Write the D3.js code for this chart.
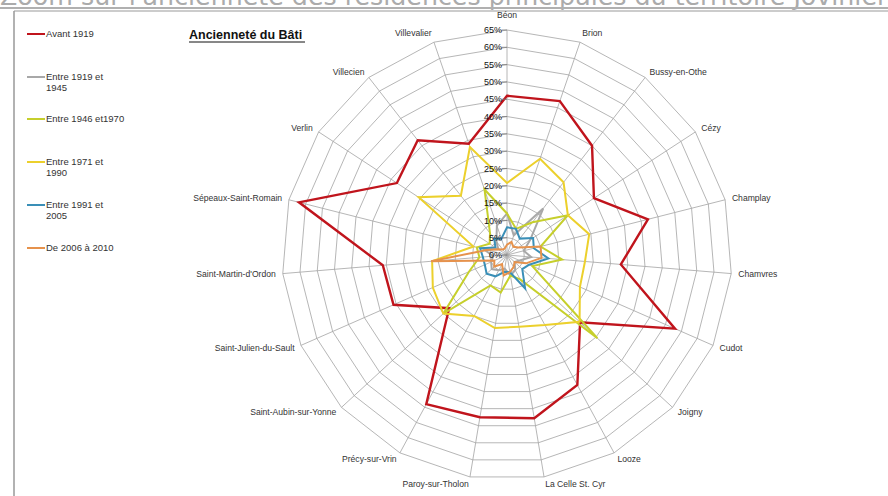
<!DOCTYPE html>
<html><head><meta charset="utf-8">
<script src="https://cdn.jsdelivr.net/npm/d3@7"></script>
<style>html,body{margin:0;padding:0;background:#fff;overflow:hidden}</style>
</head><body>
<svg id="c" width="888" height="496"></svg>
<script>
const categories = ["Béon","Brion","Bussy-en-Othe","Cézy","Champlay","Chamvres","Cudot","Joigny","Looze","La Celle St. Cyr","Paroy-sur-Tholon","Précy-sur-Vrin","Saint-Aubin-sur-Yonne","Saint-Julien-du-Sault","Saint-Martin-d'Ordon","Sépeaux-Saint-Romain","Verlin","Villecien","Villevalier"];
const avant1919   = [46,47,40,30,42,33,53,28.7,42.7,47.8,47.5,49,22.7,35.8,36,62,38,42,34];
const entre19_45  = [12,6,17,8,5,7,4,3,5,6,4,5,6,5,4,7,3,5,9];
const entre46_70  = [12,8,12,21,10,16,8,35.5,8,6,11,10,25,12,8,9,6,8,20];
const entre71_90  = [20.8,29.4,26.6,21,24.5,22.6,23,28.5,23,21,21.4,20,25,23.4,21.7,10,30.5,21.7,33];
const entre91_05  = [8,8,6,9,8,12,7,6,11,5,5,7,8,7,7,8,4,6,5];
const entre06_10  = [3,4,3,4,10,10,6,3,4,5,6,3,5,4,22,6,3,2,2];
const seriesNames = ["Avant 1919","Entre 1919 et\n1945","Entre 1946 et1970","Entre 1971 et\n1990","Entre 1991 et\n2005","De 2006 à 2010"];
const seriesColors = ["#c0141c","#a8a8a8","#c6cf2c","#ecd02c","#3a8fb7","#e6924c"];
const tickValues = [0,5,10,15,20,25,30,35,40,45,50,55,60,65];
const seriesData = [avant1919,entre19_45,entre46_70,entre71_90,entre91_05,entre06_10];

const svg = d3.select("#c");
const font = "Liberation Sans, Arial, sans-serif";

// page title (cut off at top)
svg.append("text").attr("x",0).attr("y",5).attr("font-family","DejaVu Sans, Verdana, sans-serif")
  .attr("font-size",24).attr("fill","#ababab").attr("textLength",893).attr("lengthAdjust","spacingAndGlyphs")
  .text("Zoom sur l'ancienneté des résidences principales du territoire Jovinien");
svg.append("line").attr("x1",0).attr("x2",888).attr("y1",8).attr("y2",8).attr("stroke","#b0b0b0").attr("stroke-width",2);
svg.append("line").attr("x1",14).attr("x2",888).attr("y1",11).attr("y2",11).attr("stroke","#999").attr("stroke-width",1.2);
svg.append("line").attr("x1",14).attr("x2",14).attr("y1",11).attr("y2",496).attr("stroke","#999").attr("stroke-width",1.5);

// chart title
svg.append("text").attr("x",189).attr("y",39).attr("font-family",font).attr("font-weight","bold")
  .attr("font-size",12.5).attr("fill","#111").text("Ancienneté du Bâti");
svg.append("line").attr("x1",189).attr("x2",305).attr("y1",42).attr("y2",42).attr("stroke","#111").attr("stroke-width",1);

const cx = 507, cy = 255;
const r = d3.scaleLinear().domain([0,65]).range([0,225]);
const n = categories.length;
const ang = d3.scaleLinear().domain([0,n]).range([0,2*Math.PI]);

const g = svg.append("g").attr("transform",`translate(${cx},${cy})`);
const radial = d3.lineRadial().angle((d,i)=>ang(i)).radius(d=>r(d)).curve(d3.curveLinearClosed);

// grid rings
tickValues.filter(v=>v>0).forEach(v=>{
  g.append("path").attr("d",radial(categories.map(()=>v))).attr("fill","none")
    .attr("stroke","#a3a3a3").attr("stroke-width",0.8);
});
// spokes
categories.forEach((c,i)=>{
  const a = ang(i);
  g.append("line").attr("x1",0).attr("y1",0)
    .attr("x2",Math.sin(a)*r(65)).attr("y2",-Math.cos(a)*r(65))
    .attr("stroke","#a3a3a3").attr("stroke-width",0.8);
});

// category labels
categories.forEach((c,i)=>{
  const a = ang(i), s = Math.sin(a), co = Math.cos(a);
  const rr = 232;
  let x = s*rr, y = -co*rr;
  let anchor = Math.abs(s)<0.05 ? "middle" : (s>0 ? "start":"end");
  if (anchor==="middle" && co>0) y -= 8;
  if (co>0.9 && anchor!=="middle") y -= 3;
  g.append("text").attr("x",x).attr("y",y).attr("text-anchor",anchor).attr("dy","0.35em")
    .attr("font-family",font).attr("font-size",8.6).attr("fill","#333").text(c);
});

// series
seriesData.forEach((vals,k)=>{
  g.append("path").attr("d",radial(vals)).attr("fill","none")
    .attr("stroke",seriesColors[k]).attr("stroke-width",k===0?2.4:2).attr("stroke-linejoin","miter");
});

// tick labels
tickValues.forEach(v=>{
  g.append("line").attr("x1",-5).attr("x2",0).attr("y1",-r(v)).attr("y2",-r(v)).attr("stroke","#777").attr("stroke-width",0.8);
  g.append("text").attr("x",-5).attr("y",-r(v)).attr("dy","0.35em").attr("text-anchor","end")
    .attr("font-family",font).attr("font-size",9).attr("fill","#111").text(v+"%");
});

// legend
const legY = [34,77,119,162,205,248];
seriesNames.forEach((name,k)=>{
  svg.append("line").attr("x1",27).attr("x2",45).attr("y1",legY[k]).attr("y2",legY[k])
    .attr("stroke",seriesColors[k]).attr("stroke-width",2);
  const t = svg.append("text").attr("x",46).attr("y",legY[k]).attr("dy","0.35em")
    .attr("font-family",font).attr("font-size",9.5).attr("fill","#333");
  name.split("\n").forEach((ln,j)=>{
    t.append("tspan").attr("x",46).attr("dy", j===0?"0.35em":"1.15em").text(ln);
  });
});
</script>
</body></html>
